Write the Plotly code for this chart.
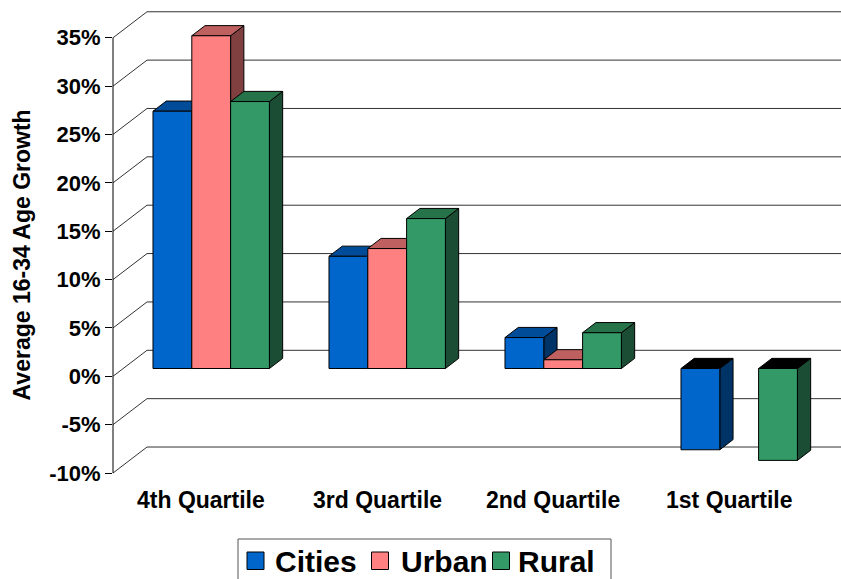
import plotly.graph_objects as go

# ---- data -------------------------------------------------------------
categories = ["4th Quartile", "3rd Quartile", "2nd Quartile", "1st Quartile"]
series_names = ["Cities", "Urban", "Rural"]
cities = [26.6, 11.6, 3.2, -8.4]
urban = [34.4, 12.4, 0.9, None]
rural = [27.6, 15.5, 3.7, -9.5]
tick_values = [-10, -5, 0, 5, 10, 15, 20, 25, 30, 35]
tick_labels = [f"{v}%" for v in tick_values]
axis_title = "Average 16-34 Age Growth"

series_values = [cities, urban, rural]

# ---- styling ----------------------------------------------------------
front_colors = ["#0066CC", "#FF8080", "#339966"]
top_colors = ["#004C99", "#BF6060", "#267349"]
side_colors = ["#003366", "#804040", "#1A4D33"]
FONT = "Liberation Sans, Arial, sans-serif"

W, H = 841, 579
LEFT = 113                 # left margin (front value axis)
PX_PER_CAT = 176           # horizontal size of one category slot
PX_PER_PCT = 9.673         # vertical size of one percentage point
ZERO_PX = 376.3            # pixel row of 0% on the front plane

x_range = [0, (W - LEFT) / PX_PER_CAT]
y_range = [-(H - ZERO_PX) / PX_PER_PCT, ZERO_PX / PX_PER_PCT]

# oblique projection of the chart depth (front plane -> back wall)
DEPTH_X = 34 / PX_PER_CAT
DEPTH_Y = 26 / PX_PER_PCT
BAR_FRONT = 0.30
BAR_BACK = 0.69
BAR_W = 0.2205


def px_x(px):
    return (px - LEFT) / (W - LEFT)


def px_y(py):
    return 1 - py / H


def face(xs, ys, color):
    return go.Scatter(
        x=xs + [xs[0]], y=ys + [ys[0]], mode="lines", fill="toself",
        fillcolor=color, line=dict(color="black", width=1),
        hoverinfo="skip", showlegend=False,
    )


fig = go.Figure()

# back wall gridlines with their diagonals on the side wall
gx, gy = [], []
for t in tick_values:
    gx += [0, DEPTH_X, x_range[1] + 0.2, None]
    gy += [t, t + DEPTH_Y, t + DEPTH_Y, None]
fig.add_trace(go.Scatter(x=gx, y=gy, mode="lines",
                         line=dict(color="#333333", width=1),
                         hoverinfo="skip", showlegend=False))

# 3-D columns: side, top, then front face, painted left to right
sdx = (BAR_BACK - BAR_FRONT) * DEPTH_X
sdy = (BAR_BACK - BAR_FRONT) * DEPTH_Y
base = BAR_FRONT * DEPTH_Y
for i, _ in enumerate(categories):
    for s, values in enumerate(series_values):
        v = values[i]
        if v is None:
            continue
        x0 = i + 0.5 - 1.5 * BAR_W + s * BAR_W + BAR_FRONT * DEPTH_X
        x1 = x0 + BAR_W
        lo, hi = min(base, base + v), max(base, base + v)
        fig.add_trace(face([x1, x1 + sdx, x1 + sdx, x1],
                           [lo, lo + sdy, hi + sdy, hi], side_colors[s]))
        fig.add_trace(face([x0, x1, x1 + sdx, x0 + sdx],
                           [hi, hi, hi + sdy, hi + sdy],
                           top_colors[s] if v >= 0 else "black"))
        fig.add_trace(face([x0, x1, x1, x0], [lo, lo, hi, hi],
                           front_colors[s]))

shapes = [
    # front value axis line
    dict(type="line", xref="paper", yref="y", x0=0, x1=0,
         y0=tick_values[0], y1=tick_values[-1],
         line=dict(color="black", width=1)),
    # legend frame
    dict(type="rect", xref="paper", yref="paper",
         x0=px_x(238), x1=px_x(611), y0=px_y(539), y1=px_y(590),
         line=dict(color="#555555", width=1), fillcolor="white"),
]

annotations = []
# category labels on the front plane
for i, cat in enumerate(categories):
    annotations.append(dict(
        x=i + 0.5, y=(ZERO_PX - 499.5) / PX_PER_PCT, xref="x", yref="y",
        text=cat, showarrow=False, xanchor="center", yanchor="middle",
        font=dict(family=FONT, size=23, color="black", weight="bold")))

# value axis title
annotations.append(dict(
    x=px_x(22), y=(tick_values[0] + tick_values[-1]) / 2, xref="paper",
    yref="y", text=axis_title, textangle=-90, showarrow=False,
    xanchor="center", yanchor="middle",
    font=dict(family=FONT, size=23, color="black", weight="bold")))

# legend entries
swatch_px = [247, 371.5, 492.5]
label_px = [273, 398.5, 515.5]
for s, name in enumerate(series_names):
    shapes.append(dict(
        type="rect", xref="paper", yref="paper",
        x0=px_x(swatch_px[s]), x1=px_x(swatch_px[s] + 17),
        y0=px_y(552), y1=px_y(569.5),
        fillcolor=front_colors[s], line=dict(color="black", width=1)))
    annotations.append(dict(
        x=px_x(label_px[s]), y=px_y(561), xref="paper", yref="paper",
        text=name, showarrow=False, xanchor="left", yanchor="middle",
        font=dict(family=FONT, size=30, color="black", weight="bold")))

fig.update_layout(
    width=W, height=H,
    margin=dict(l=LEFT, r=0, t=0, b=0),
    paper_bgcolor="white", plot_bgcolor="white",
    showlegend=False,
    xaxis=dict(range=x_range, visible=False, fixedrange=True),
    yaxis=dict(
        range=y_range, tickvals=tick_values, ticktext=tick_labels,
        ticks="outside", ticklen=7, tickwidth=1, tickcolor="black",
        showgrid=False, zeroline=False, showline=False, fixedrange=True,
        tickfont=dict(family=FONT, size=22, color="black", weight="bold"),
    ),
    shapes=shapes,
    annotations=annotations,
)

fig.write_html("out.html")
